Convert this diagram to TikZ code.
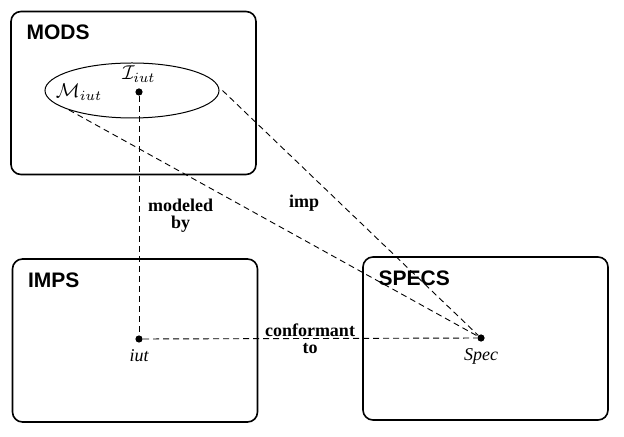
\documentclass[tikz,border=0pt]{standalone}
\usepackage{fontspec}
\setmainfont{Liberation Serif}
\setsansfont{Liberation Sans}
\usepackage{tikz}
\usepackage{amsmath}
\usetikzlibrary{positioning,shapes.geometric}

\begin{document}
\begin{tikzpicture}[x=0.5pt,y=-0.5pt,
    box/.style={draw,line width=0.8pt,rounded corners=5pt,minimum width=122.5pt,minimum height=81.5pt},
    boxtitle/.style={inner sep=0pt,font=\sffamily\bfseries\fontsize{10.5}{12}\selectfont},
    dot/.style={circle,fill,inner sep=0pt,minimum size=3.6pt},
    link/.style={dash pattern=on 3pt off 2pt,line width=0.45pt},
    lbl/.style={font=\bfseries\fontsize{9}{8.5}\selectfont,align=center},
    itlbl/.style={font=\itshape\fontsize{9}{10}\selectfont}]
\useasboundingbox (0,0) rectangle (624,437);
\foreach \n/\x/\y/\t in {mods/133.5/93/MODS,imps/135/340.5/IMPS,specs/485.5/338.5/SPECS}
    {\node[box] (\n) at (\x,\y) {};
    \node[boxtitle,below right=7pt and 8pt of \n.north west] (\n-title) {\t};}
\node[ellipse,draw,line width=0.5pt,minimum width=87pt,minimum height=27.5pt] (ell) at (132,90.5) {};
\node[dot] (imod) at (139,92) {};
\node[above=-1pt of imod] (imodlbl) {$\mathcal{I}_{iut}$};
\node (mmod) at (79,92) {$\mathcal{M}_{iut}$};
\node[dot] (iut) at (139,339) {};
\node[itlbl,below=0pt of iut] (iutlbl) {iut};
\node[dot] (spec) at (481,338) {};
\node[itlbl,below=0pt of spec] (speclbl) {Spec};
\draw[link] (imod) -- (iut) node[midway,right=1pt,lbl] (modeled) {modeled\\by};
\draw[link] (iut) -- (spec) node[midway,lbl] (conf) {conformant\\to};
\draw[link] (ell.197) -- (spec);
\draw[link] ([xshift=1.5pt]ell.east) -- (spec);
\node[lbl] (imp) at (304,203) {imp};
\end{tikzpicture}
\end{document}
